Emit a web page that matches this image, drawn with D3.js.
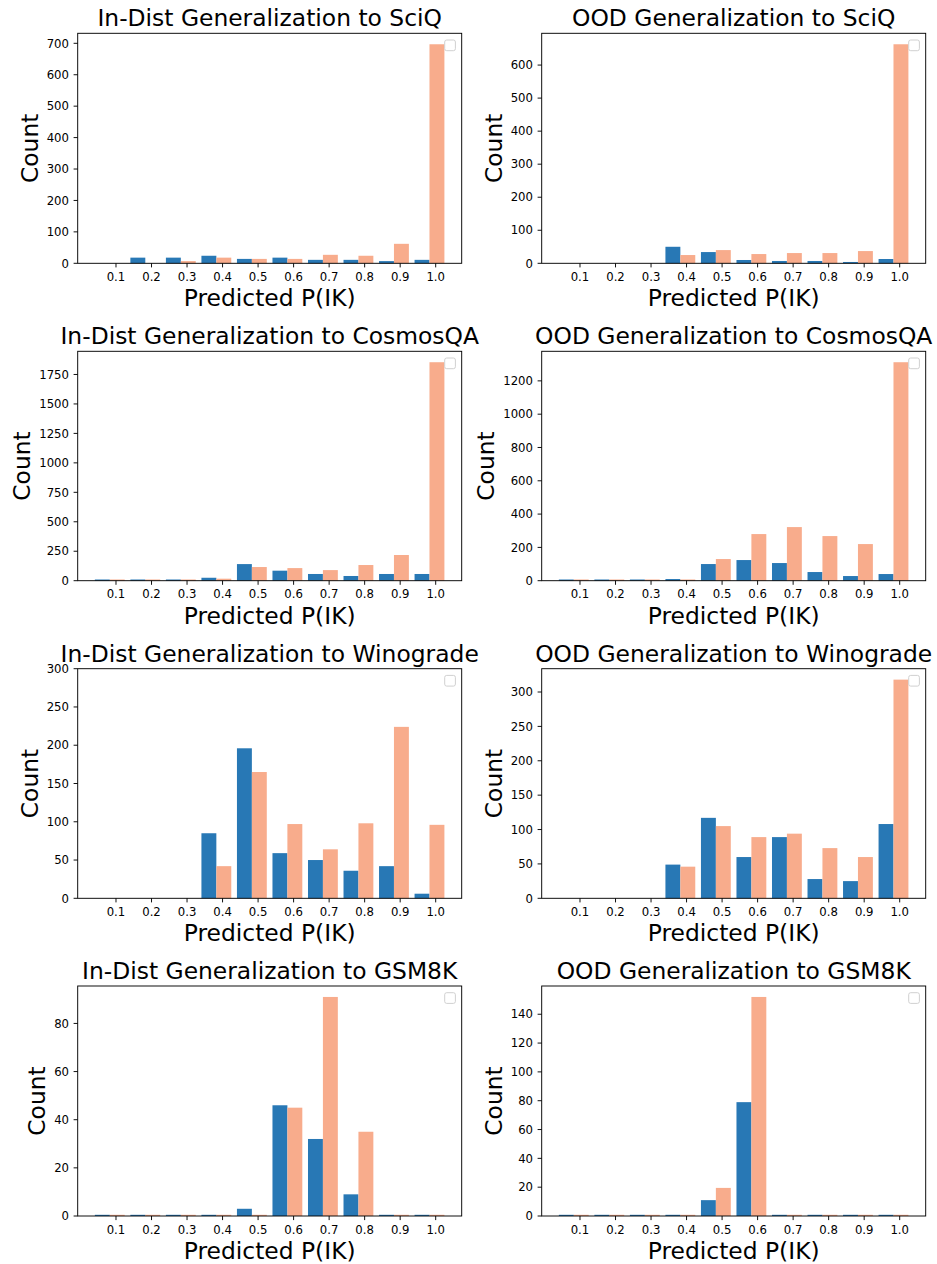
<!DOCTYPE html>
<html><head><meta charset="utf-8">
<script src="https://cdn.jsdelivr.net/npm/d3@7"></script>
<style>
body{margin:0;background:#fff}
svg{display:block}
text{font-family:"DejaVu Sans",sans-serif;fill:#000}
</style>
</head><body>
<svg id="chart" width="937" height="1264"></svg>
<script>
// ---------- data ----------
const binLabels = ["0.1","0.2","0.3","0.4","0.5","0.6","0.7","0.8","0.9","1.0"];

const titles = [
  "In-Dist Generalization to SciQ", "OOD Generalization to SciQ",
  "In-Dist Generalization to CosmosQA", "OOD Generalization to CosmosQA",
  "In-Dist Generalization to Winograde", "OOD Generalization to Winograde",
  "In-Dist Generalization to GSM8K", "OOD Generalization to GSM8K"
];

// blue series (first histogram) per panel
const sciqInBlue    = [0, 18, 18, 24, 14, 18, 11, 11, 7, 11];
const sciqOodBlue   = [0, 0, 0, 50, 34, 10, 7, 7, 4, 13];
const cosmosInBlue  = [5, 4, 5, 25, 141, 85, 57, 40, 57, 57];
const cosmosOodBlue = [4, 3, 4, 10, 100, 124, 106, 52, 28, 40];
const winoInBlue    = [0, 0, 0, 85, 196, 59, 50, 36, 42, 6];
const winoOodBlue   = [0, 0, 0, 49, 117, 60, 89, 28, 25, 108];
const gsmInBlue     = [0, 0, 0, 0, 3, 46, 32, 9, 0, 0];
const gsmOodBlue    = [0, 0, 0, 0, 11, 79, 0, 0, 0, 0];

// orange series (second histogram) per panel
const sciqInOrange    = [0, 0, 7, 18, 14, 14, 27, 24, 62, 697];
const sciqOodOrange   = [0, 0, 0, 25, 40, 28, 31, 31, 37, 663];
const cosmosInOrange  = [5, 4, 5, 17, 116, 107, 90, 133, 218, 1854];
const cosmosOodOrange = [4, 3, 4, 4, 130, 280, 322, 268, 220, 1312];
const winoInOrange    = [0, 0, 0, 42, 165, 97, 64, 98, 224, 96];
const winoOodOrange   = [0, 0, 0, 46, 105, 89, 94, 73, 60, 318];
const gsmInOrange     = [0, 0, 0, 0, 0, 45, 91, 35, 0, 0];
const gsmOodOrange    = [0, 0, 0, 0, 19.5, 152, 0, 0, 0, 0];

const blueSeries = [sciqInBlue, sciqOodBlue, cosmosInBlue, cosmosOodBlue, winoInBlue, winoOodBlue, gsmInBlue, gsmOodBlue];
const orangeSeries = [sciqInOrange, sciqOodOrange, cosmosInOrange, cosmosOodOrange, winoInOrange, winoOodOrange, gsmInOrange, gsmOodOrange];

// y tick labels per panel
const yTicks = [
  [0,100,200,300,400,500,600,700],
  [0,100,200,300,400,500,600],
  [0,250,500,750,1000,1250,1500,1750],
  [0,200,400,600,800,1000,1200],
  [0,50,100,150,200,250,300],
  [0,50,100,150,200,250,300],
  [0,20,40,60,80],
  [0,20,40,60,80,100,120,140]
];
// explicit y limits (null = autoscale)
const yLimits = [null, null, null, null, 300, null, null, null];

// ---------- layout / style ----------
const colBlue = "#2878b5", colOrange = "#f8ac8c";
const colLefts = [77.7, 541.7];
const axW = 384;
const rowTops = [33.3, 351.3, 668.7, 986];
const rowBottoms = [263.3, 580.7, 898.3, 1216];
const showZeroBins = [false, false, true, true, false, false, true, true];
const xDomain = [-0.0078, 1.0732];
const binShift = 0.0175, barW = 0.042;
const tickLen = 4.1, tickFont = 11.7, bigFont = 23.4, spineW = 0.94;

const svg = d3.select("#chart");

titles.forEach((title, i) => {
  const col = i % 2, row = Math.floor(i / 2);
  const left = colLefts[col], right = left + axW;
  const top = rowTops[row], bottom = rowBottoms[row];
  const blue = blueSeries[i], orange = orangeSeries[i];
  const yMax = yLimits[i] != null ? yLimits[i] : d3.max(blue.concat(orange)) * 1.05;

  const x = d3.scaleLinear().domain(xDomain).range([left, right]);
  const y = d3.scaleLinear().domain([0, yMax]).range([bottom, top]);
  const g = svg.append("g");

  const minH = showZeroBins[i] ? 1.2 : 0;
  const drawSeries = (vals, color, offset) => {
    g.append("g").selectAll("rect").data(vals).join("rect")
      .attr("x", (d, k) => x(+binLabels[k] - binShift + offset))
      .attr("width", (d, k) => x(+binLabels[k] - binShift + offset + barW) - x(+binLabels[k] - binShift + offset))
      .attr("y", d => Math.min(y(d), y(0) - minH))
      .attr("height", d => Math.max(y(0) - y(d), minH))
      .attr("fill", color);
  };
  drawSeries(blue, colBlue, -barW);
  drawSeries(orange, colOrange, 0);

  // spines
  g.append("rect").attr("x", left).attr("y", top).attr("width", axW).attr("height", bottom - top)
    .attr("fill", "none").attr("stroke", "#000").attr("stroke-width", spineW);

  // x ticks
  const xt = g.append("g");
  binLabels.forEach(lbl => {
    const xv = x(+lbl);
    xt.append("line").attr("x1", xv).attr("x2", xv).attr("y1", bottom).attr("y2", bottom + tickLen)
      .attr("stroke", "#000").attr("stroke-width", spineW);
    xt.append("text").attr("x", xv).attr("y", bottom + 17.6).attr("text-anchor", "middle")
      .attr("font-size", tickFont).text(lbl);
  });

  // y ticks
  const yt = g.append("g");
  let minLabelX = Infinity;
  yTicks[i].forEach(v => {
    const yv = y(v);
    yt.append("line").attr("x1", left - tickLen).attr("x2", left).attr("y1", yv).attr("y2", yv)
      .attr("stroke", "#000").attr("stroke-width", spineW);
    const t = yt.append("text").attr("x", left - tickLen - 4.6).attr("y", yv + 4.2)
      .attr("text-anchor", "end").attr("font-size", tickFont).text(d3.format("d")(v));
    minLabelX = Math.min(minLabelX, t.node().getBBox().x);
  });

  // y label
  const cy = (top + bottom) / 2;
  g.append("text").attr("transform", `translate(${minLabelX - 9},${cy}) rotate(-90)`)
    .attr("text-anchor", "middle").attr("font-size", bigFont).text("Count");

  // x label
  g.append("text").attr("x", (left + right) / 2).attr("y", bottom + 43)
    .attr("text-anchor", "middle").attr("font-size", bigFont).text("Predicted P(IK)");

  // title
  g.append("text").attr("x", (left + right) / 2).attr("y", top - 7)
    .attr("text-anchor", "middle").attr("font-size", bigFont).text(title);

  // empty legend frame
  g.append("rect").attr("x", right - 6.3 - 10.7).attr("y", top + 6.7).attr("width", 10.7).attr("height", 10.7)
    .attr("rx", 2).attr("fill", "#fff").attr("fill-opacity", 0.8)
    .attr("stroke", "#d0d0d0").attr("stroke-width", 1);
});
</script>
</body></html>
